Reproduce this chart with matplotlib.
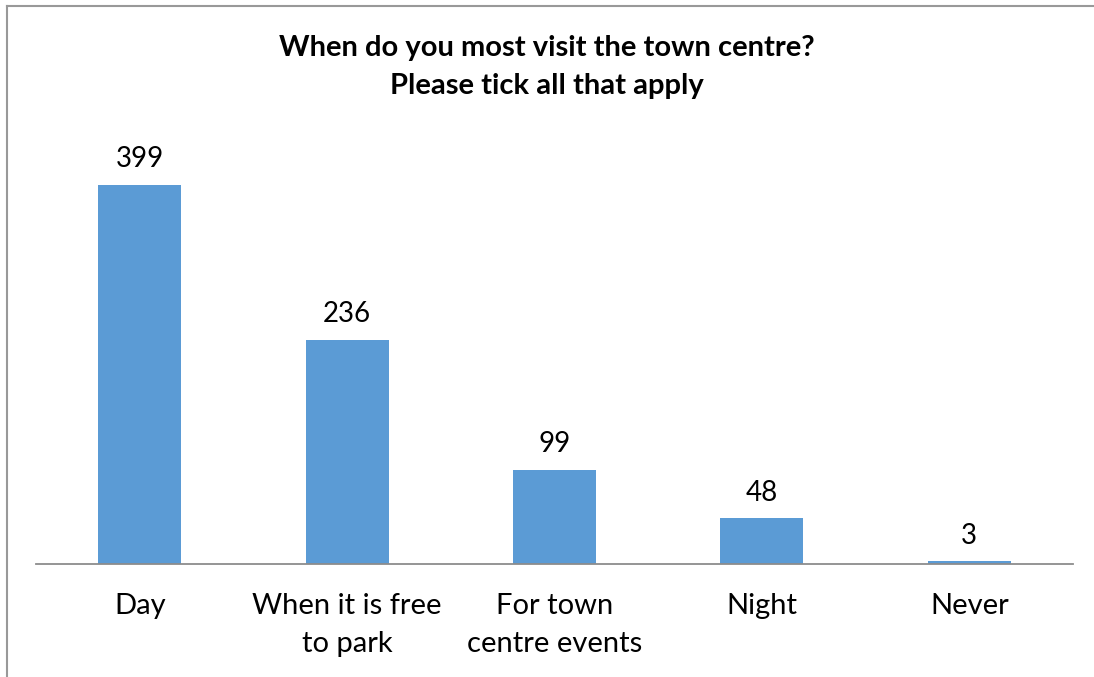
import matplotlib.pyplot as plt
from matplotlib.lines import Line2D

# данные опроса
categories = ['Day', 'When it is free\nto park', 'For town\ncentre events', 'Night', 'Never']
counts = [399, 236, 99, 48, 3]
title = 'When do you most visit the town centre?\nPlease tick all that apply'

plt.rcParams['font.family'] = ['Lato', 'DejaVu Sans']

W, H = 1094, 677
fig = plt.figure(figsize=(W / 100, H / 100), dpi=100)
ax = fig.add_axes([36 / W, 1 - 564 / H, (1073 - 36) / W, (564 - 136.5) / H])

bars = ax.bar(range(len(counts)), counts, width=0.4, color='#5b9bd5')
ax.set_xlim(-0.5, len(counts) - 0.5)
ax.set_ylim(0, 450)

for b, v in zip(bars, counts):
    ax.annotate(str(v), (b.get_x() + b.get_width() / 2, v), xytext=(0, 9),
                textcoords='offset points', ha='center', va='bottom', fontsize=20)

ax.set_xticks(range(len(categories)))
ax.set_xticklabels(categories, fontsize=21, linespacing=1.58)
ax.tick_params(axis='x', length=0, pad=21)
ax.set_yticks([])
for s in ['top', 'right', 'left']:
    ax.spines[s].set_visible(False)
ax.spines['bottom'].set_color('#8c8c8c')
ax.spines['bottom'].set_linewidth(1.3)

fig.text(0.5, 1 - 67 / H, title, ha='center', va='center', fontsize=21,
         fontweight='bold', linespacing=1.6)

# рамка области диаграммы (видны только левая и верхняя стороны)
fig.add_artist(Line2D([6.5 / W, 6.5 / W], [0, 1 - 5.5 / H], color='#999999', lw=1.5))
fig.add_artist(Line2D([6.5 / W, 1], [1 - 5.5 / H, 1 - 5.5 / H], color='#999999', lw=1.5))

fig.savefig('out.png', dpi=100, facecolor='white')
